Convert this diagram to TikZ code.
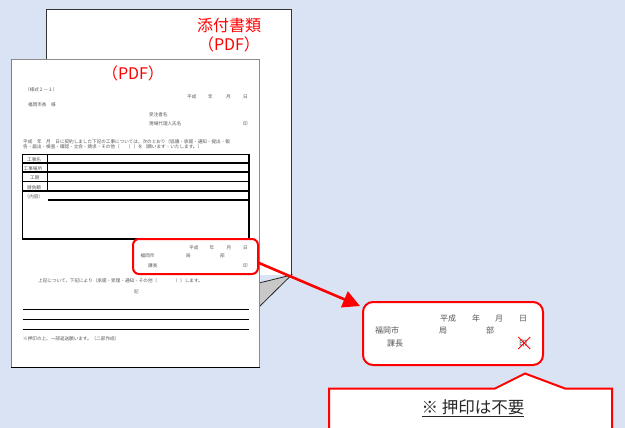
\documentclass[tikz,border=0pt]{standalone}
\usepackage{fontspec}
\newfontfamily\jp{Noto Sans CJK JP}
\usetikzlibrary{arrows.meta,calc}
\definecolor{bgblue}{HTML}{DAE3F3}
\definecolor{myred}{HTML}{FF0000}
\definecolor{flapgray}{HTML}{C8C8C8}
\definecolor{smalltext}{HTML}{555555}
\tikzset{
  tinytxt/.style={font=\fontsize{4.6}{5}\selectfont\jp, text=smalltext, inner sep=0pt, anchor=west, text height=0.8em, text depth=0.2em},
  midtxt/.style={font=\fontsize{8}{9}\selectfont\jp, text=smalltext, inner sep=0pt, anchor=west, text height=0.8em, text depth=0.2em},
  bigred/.style={font=\fontsize{16}{18}\selectfont\jp, text=myred, inner sep=0pt},
  tablebox/.style={draw=black, line width=1.1pt},
  redbox/.style={draw=myred, line width=2pt, rounded corners=7pt},
}
\begin{document}
\begin{tikzpicture}[x=1pt,y=-1pt]
\fill[bgblue] (0,0) rectangle (625,428);
\useasboundingbox (0,0) rectangle (625,428);
% back page
\path[fill=white] (46.5,9.5) rectangle (291.5,275);
\draw[black!80, line width=0.8pt] (46.5,59) -- (46.5,9.5) -- (291.5,9.5) -- (291.5,275);
\filldraw[fill=flapgray, draw=black!85, line width=0.8pt] (259,283) -- (291.5,275) -- (259,307) -- cycle;
\node[bigred] (attach) at (229,25) {添付書類};
\node[bigred] (attachpdf) at (229,44) {（PDF）};
% front page
\filldraw[fill=white, draw=black!45, line width=0.6pt] (11,59) rectangle (259.5,367);
\draw[black!50, line width=1.6pt] (11.5,59) -- (11.5,367);
\draw[black, line width=0.9pt] (11,367) -- (259.5,367);
\node[bigred] (frontpdf) at (133,73) {（PDF）};
% small texts
\node[tinytxt] (t1) at (25,89) {（様式２－１）};
\node[tinytxt] (d1) at (187,96) {平成};
\node[tinytxt] (d2) at (208,96) {年};
\node[tinytxt] (d3) at (226,96) {月};
\node[tinytxt] (d4) at (243,96) {日};
\node[tinytxt] (t2) at (28,104) {福岡市長　様};
\node[tinytxt] (t3) at (149,114) {受注者名};
\node[tinytxt] (t4) at (149,123) {現場代理人氏名};
\node[tinytxt] (t5) at (243,123) {印};
\node[tinytxt] (p1) at (23,140) {平成　年　月　日に契約しました下記の工事については，次のとおり（協議・承諾・通知・提出・報};
\node[tinytxt] (p2) at (23,146) {告・届出・検査・確認・立会・請求・その他（　　））を（願います・いたします。）};
% table
\draw[tablebox] (22.5,154.5) rectangle (249,163);
\draw[tablebox] (22.5,163) rectangle (249,172);
\draw[tablebox] (22.5,172) rectangle (249,181.5);
\draw[tablebox] (22.5,181.5) rectangle (249,191);
\draw[tablebox] (22.5,191) rectangle (249,239);
\draw[tablebox] (47.7,154.5) -- (47.7,191);
\draw[tablebox] (47.7,200) -- (249,200);
\node[tinytxt] (r1) at (27,158.8) {工事名};
\node[tinytxt] (r2) at (23.5,167.5) {工事場所};
\node[tinytxt] (r3) at (30,176.8) {工期};
\node[tinytxt] (r4) at (27,186.2) {請負額};
\node[tinytxt] (r5) at (24.5,195.5) {（内容）};
% highlighted part
\node[tinytxt] (h1) at (189,246) {平成};
\node[tinytxt] (h2) at (209.5,246) {年};
\node[tinytxt] (h3) at (226.5,246) {月};
\node[tinytxt] (h4) at (243,246) {日};
\node[tinytxt] (h5) at (140.5,254) {福岡市};
\node[tinytxt] (h6) at (186,254) {局};
\node[tinytxt] (h7) at (220,254) {部};
\node[tinytxt] (h8) at (148,264) {課長};
\node[tinytxt] (h9) at (243,264) {印};
\node[redbox, rounded corners=6pt, minimum width=125pt, minimum height=35pt, inner sep=0pt] (hl) at (195.5,256.5) {};
\node[tinytxt] (q1) at (38,279) {上記について，下記により（承諾・受理・通知・その他（　　　　））します。};
\node[tinytxt] (q2) at (134,290) {記};
\draw[black, line width=0.9pt] (22.5,309) -- (249,309);
\draw[black, line width=0.9pt] (22.5,319) -- (249,319);
\draw[black, line width=0.9pt] (22.5,329) -- (249,329);
\node[tinytxt] (q3) at (23,337) {※押印の上、一部返送願います。（二部作成）};
% callout
\node[redbox, fill=white, rounded corners=10pt, minimum width=180pt, minimum height=63pt, inner sep=0pt] (co) at (453,333.5) {};
\node[midtxt] (c1) at (440,318) {平成};
\node[midtxt] (c2) at (472,318) {年};
\node[midtxt] (c3) at (495,318) {月};
\node[midtxt] (c4) at (519,318) {日};
\node[midtxt] (c5) at (375,330) {福岡市};
\node[midtxt] (c6) at (439,330) {局};
\node[midtxt] (c7) at (486,330) {部};
\node[midtxt] (c8) at (387,343) {課長};
\node[midtxt] (c9) at (519,343) {印};
\draw[myred, line width=0.9pt] (c9.center) ++(-5,-6) -- ++(12,12);
\draw[myred, line width=0.9pt] (c9.center) ++(7,-6) -- ++(-12,12);
\coordinate (tip) at (360,306);
\draw[myred, line width=2.6pt, -{Triangle[length=17pt,width=17pt]}] ($(hl.east)+(0,6.5)$) -- (tip);
% note
\filldraw[fill=white, draw=myred, line width=2pt] (329,432) -- (329,388.5) -- (495,388.5) -- (525,373.5) -- (565,388.5) -- (612,388.5) -- (612,432);
\node[font=\fontsize{16.5}{18}\selectfont\jp, text=black!85, inner sep=0pt] (note) at (473,408) {\underline{※ 押印は不要}};
\end{tikzpicture}
\end{document}
